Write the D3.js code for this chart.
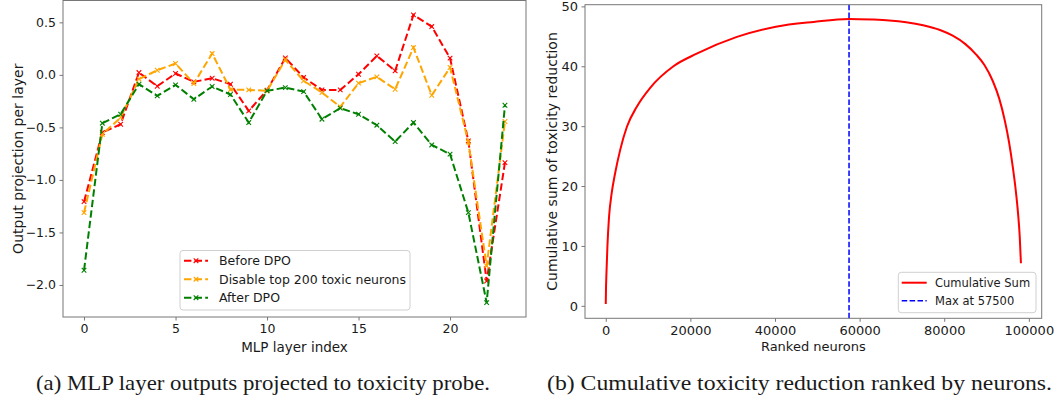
<!DOCTYPE html>
<html><head><meta charset="utf-8">
<script src="https://cdn.jsdelivr.net/npm/d3@7"></script>
<style>
body{margin:0;background:#fff}
svg{display:block}
text{font-family:"DejaVu Sans",sans-serif;fill:#1a1a1a}
</style>
</head><body><svg id="c" width="1058" height="400"></svg>
<script>
// ---------- Data: panel (a) ----------
const layers = [0,1,2,3,4,5,6,7,8,9,10,11,12,13,14,15,16,17,18,19,20,21,22,23];
const beforeDPO = [-1.207,-0.549,-0.47,0.022,-0.108,0.013,-0.067,-0.032,-0.089,-0.343,-0.146,0.162,-0.025,-0.143,-0.143,0.006,0.181,0.038,0.571,0.46,0.159,-0.629,-1.962,-0.835];
const disableTop200 = [-1.311,-0.565,-0.406,-0.041,0.044,0.108,-0.083,0.203,-0.14,-0.143,-0.152,0.144,-0.057,-0.168,-0.305,-0.079,-0.019,-0.137,0.26,-0.194,0.07,-0.64,-1.819,-0.444];
const afterDPO = [-1.86,-0.46,-0.375,-0.089,-0.2,-0.095,-0.232,-0.111,-0.187,-0.454,-0.152,-0.121,-0.159,-0.422,-0.317,-0.375,-0.479,-0.635,-0.454,-0.667,-0.755,-1.311,-2.168,-0.289];
const seriesNames = ["Before DPO","Disable top 200 toxic neurons","After DPO"];
const seriesColors = ["#ff0000","#ffa500","#008000"];
const leftXTicks = [0,5,10,15,20];
const leftYTicks = [0.5,0.0,-0.5,-1.0,-1.5,-2.0];

// ---------- Data: panel (b) ----------
const rankedNeurons = [0,50,150,390,780,1400,2200,3400,5000,7300,10500,16000,21500,31000,40200,49100,57500,63000,67000,71000,75000,79000,82000,85000,87500,89500,91500,93000,94300,95300,96200,96900,97450,97850,98130];
const cumulativeSum = [0.3,2.6,5.2,9.9,14.9,18.8,22.1,26,29.9,33.2,36.4,40,42.1,44.9,46.6,47.4,47.9,47.8,47.65,47.35,46.85,46.05,45.1,43.7,42.0,40.2,37.5,34.6,31.0,27.4,23.2,19.3,15.4,11.5,7.1];
const maxAt = 57500;
const rightXTicks = [0,20000,40000,60000,80000,100000];
const rightYTicks = [0,10,20,30,40,50];

const captions = ["(a) MLP layer outputs projected to toxicity probe.","(b) Cumulative toxicity reduction ranked by neurons."];

const svg = d3.select("#c");
const minus = s => s.replace("-", "\u2212");
const SP = "#777";

function pad(ext){ const r = ext[1]-ext[0]; return [ext[0]-0.05*r, ext[1]+0.05*r]; }

// ================= Panel (a) =================
{
  const L = 63, R = 526, T = 0.5, B = 317;
  const all = beforeDPO.concat(disableTop200, afterDPO);
  const x = d3.scaleLinear().domain(pad(d3.extent(layers))).range([L, R]);
  const y = d3.scaleLinear().domain(pad(d3.extent(all))).range([B, T]);
  const g = svg.append("g");

  const fs = 12.5;
  const xa = g.append("g").attr("transform", `translate(0,${B})`)
    .call(d3.axisBottom(x).tickValues(leftXTicks).tickFormat(d3.format("d")).tickSize(3.5).tickPadding(3.5));
  const ya = g.append("g").attr("transform", `translate(${L},0)`)
    .call(d3.axisLeft(y).tickValues(leftYTicks).tickFormat(d => minus(d3.format(".1f")(d))).tickSize(3.5).tickPadding(3.5));
  [xa, ya].forEach(a => {
    a.select(".domain").remove();
    a.selectAll("line").attr("stroke", SP);
    a.selectAll("text").attr("font-size", fs).attr("font-family", "DejaVu Sans").attr("fill", "#1a1a1a");
  });

  const series = [beforeDPO, disableTop200, afterDPO];
  const line = d3.line().x((d, i) => x(layers[i])).y(d => y(d));
  series.forEach((s, k) => {
    g.append("path").attr("d", line(s)).attr("fill", "none")
      .attr("stroke", seriesColors[k]).attr("stroke-width", 2)
      .attr("stroke-dasharray", "7.4,3.2");
    g.selectAll(null).data(s).enter().append("path")
      .attr("d", (d, i) => { const cx = x(layers[i]), cy = y(d), r = 2.3;
        return `M${cx-r},${cy-r}L${cx+r},${cy+r}M${cx-r},${cy+r}L${cx+r},${cy-r}`; })
      .attr("stroke", seriesColors[k]).attr("stroke-width", 1.1).attr("fill", "none");
  });

  g.append("rect").attr("x", L).attr("y", T).attr("width", R - L).attr("height", B - T)
    .attr("fill", "none").attr("stroke", SP).attr("stroke-width", 1);

  // legend
  const lg = g.append("g");
  lg.append("rect").attr("x", 180).attr("y", 250.5).attr("width", 230).attr("height", 59.5)
    .attr("rx", 3).attr("fill", "#fff").attr("fill-opacity", 0.8).attr("stroke", "#d0d0d0");
  seriesNames.forEach((n, k) => {
    const yy = 260.7 + k * 18.5;
    lg.append("line").attr("x1", 184).attr("x2", 208).attr("y1", yy).attr("y2", yy)
      .attr("stroke", seriesColors[k]).attr("stroke-width", 2).attr("stroke-dasharray", "7.4,3.2");
    const r = 2.3, cx = 196;
    lg.append("path").attr("d", `M${cx-r},${yy-r}L${cx+r},${yy+r}M${cx-r},${yy+r}L${cx+r},${yy-r}`)
      .attr("stroke", seriesColors[k]).attr("stroke-width", 1.1);
    lg.append("text").attr("x", 219).attr("y", yy).attr("dy", "0.35em").attr("font-size", fs).text(n);
  });

  g.append("text").attr("x", (L + R) / 2).attr("y", 347).attr("dy", "0.35em")
    .attr("text-anchor", "middle").attr("font-size", 13.5).text("MLP layer index");
  g.append("text").attr("transform", `translate(18,${(T + B) / 2}) rotate(-90)`)
    .attr("dy", "0.35em").attr("text-anchor", "middle").attr("font-size", 14).text("Output projection per layer");
}

// ================= Panel (b) =================
{
  const L = 585, R = 1041.7, T = 4.7, B = 318.3;
  const x = d3.scaleLinear().domain(pad(d3.extent(rankedNeurons))).range([L, R]);
  const y = d3.scaleLinear().domain(pad(d3.extent(cumulativeSum))).range([B, T]);
  const g = svg.append("g");
  const fs = 13;

  const xa = g.append("g").attr("transform", `translate(0,${B})`)
    .call(d3.axisBottom(x).tickValues(rightXTicks).tickFormat(d3.format("d")).tickSize(3.5).tickPadding(3.5));
  const ya = g.append("g").attr("transform", `translate(${L},0)`)
    .call(d3.axisLeft(y).tickValues(rightYTicks).tickFormat(d3.format("d")).tickSize(3.5).tickPadding(3.5));
  [xa, ya].forEach(a => {
    a.select(".domain").remove();
    a.selectAll("line").attr("stroke", SP);
    a.selectAll("text").attr("font-size", fs).attr("font-family", "DejaVu Sans").attr("fill", "#1a1a1a");
  });

  const line = d3.line().x((d, i) => x(rankedNeurons[i])).y(d => y(d)).curve(d3.curveMonotoneX);
  g.append("path").attr("d", line(cumulativeSum)).attr("fill", "none")
    .attr("stroke", "#ff0000").attr("stroke-width", 2);

  g.append("line").attr("x1", x(maxAt)).attr("x2", x(maxAt)).attr("y1", T).attr("y2", B)
    .attr("stroke", "#0000ff").attr("stroke-width", 1.5).attr("stroke-dasharray", "5.5,2.4");

  g.append("rect").attr("x", L).attr("y", T).attr("width", R - L).attr("height", B - T)
    .attr("fill", "none").attr("stroke", SP).attr("stroke-width", 1);

  const lg = g.append("g");
  lg.append("rect").attr("x", 898.3).attr("y", 272.3).attr("width", 137.7).attr("height", 40.4)
    .attr("rx", 3).attr("fill", "#fff").attr("fill-opacity", 0.8).attr("stroke", "#d0d0d0");
  lg.append("line").attr("x1", 901.7).attr("x2", 926.7).attr("y1", 282.7).attr("y2", 282.7)
    .attr("stroke", "#ff0000").attr("stroke-width", 2);
  lg.append("line").attr("x1", 901.7).attr("x2", 926.7).attr("y1", 300.7).attr("y2", 300.7)
    .attr("stroke", "#0000ff").attr("stroke-width", 1.5).attr("stroke-dasharray", "5.5,2.4");
  lg.append("text").attr("x", 935).attr("y", 282.7).attr("dy", "0.35em").attr("font-size", 11.5).text("Cumulative Sum");
  lg.append("text").attr("x", 935).attr("y", 300.7).attr("dy", "0.35em").attr("font-size", 11.5).text("Max at " + maxAt);

  g.append("text").attr("x", (L + R) / 2).attr("y", 346.7).attr("dy", "0.35em")
    .attr("text-anchor", "middle").attr("font-size", 13).text("Ranked neurons");
  g.append("text").attr("transform", `translate(551.7,${(T + B) / 2}) rotate(-90)`)
    .attr("dy", "0.35em").attr("text-anchor", "middle").attr("font-size", 14).text("Cumulative sum of toxicity reduction");
}

// ================= Captions =================
[[263, 454], [799.5, 505]].forEach(([cx, w], i) => {
  svg.append("text").attr("x", cx - w / 2).attr("y", 390)
    .style("font-family", "'Liberation Serif', serif").attr("font-size", 22)
    .attr("textLength", w).attr("lengthAdjust", "spacingAndGlyphs")
    .text(captions[i]);
});
</script>
</body></html>
